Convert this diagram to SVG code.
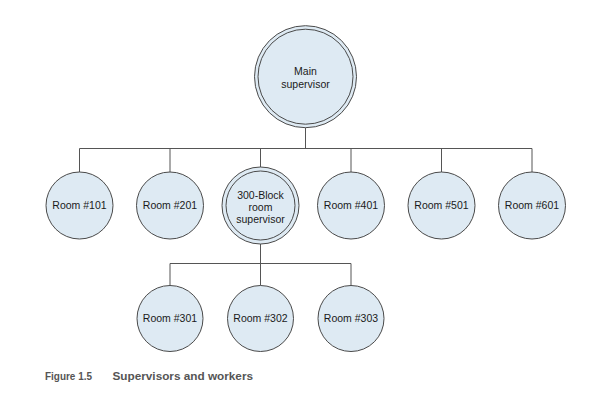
<svg xmlns="http://www.w3.org/2000/svg" width="603" height="404" viewBox="0 0 603 404">
<style>
.c{fill:#deeaf3;stroke:#4a4a4a;stroke-width:1}
.l{fill:none;stroke:#555;stroke-width:1}
.t{font-family:"Liberation Sans",Arial,sans-serif;font-size:10.5px;fill:#1a1a1a;text-anchor:middle}
.cap{font-family:"Liberation Sans",Arial,sans-serif;font-size:10.5px;font-weight:bold;fill:#555}
</style>
<rect width="603" height="404" fill="#fff"/>
<g id="connectors">
<path class="l" d="M305.5,127.7V148.5M79.5,148.5H532M79.5,148.5V172M170,148.5V172M260.5,148.5V167M351,148.5V172M441.5,148.5V172M532,148.5V172"/>
<path class="l" d="M260.5,244V263.5M170,263.5H351M170,263.5V285.5M260.5,263.5V285.5M351,263.5V285.5"/>
</g>
<g id="main">
<circle class="c" cx="305.5" cy="76.7" r="51"/>
<circle class="c" cx="305.5" cy="76.7" r="47.5"/>
<text class="t" x="305.5" y="75">Main</text>
<text class="t" x="305.5" y="87.5">supervisor</text>
</g>
<g id="r101"><circle class="c" cx="79.5" cy="205.5" r="33.5"/><text class="t" x="79.5" y="209">Room #101</text></g>
<g id="r201"><circle class="c" cx="170" cy="205.5" r="33.5"/><text class="t" x="170" y="209">Room #201</text></g>
<g id="b300">
<circle class="c" cx="260.5" cy="205.5" r="38.5"/>
<circle class="c" cx="260.5" cy="205.5" r="34.5"/>
<text class="t" x="260.5" y="199">300-Block</text>
<text class="t" x="260.5" y="211">room</text>
<text class="t" x="260.5" y="223">supervisor</text>
</g>
<g id="r401"><circle class="c" cx="351" cy="205.5" r="33.5"/><text class="t" x="351" y="209">Room #401</text></g>
<g id="r501"><circle class="c" cx="441.5" cy="205.5" r="33.5"/><text class="t" x="441.5" y="209">Room #501</text></g>
<g id="r601"><circle class="c" cx="532" cy="205.5" r="33.5"/><text class="t" x="532" y="209">Room #601</text></g>
<g id="r301"><circle class="c" cx="170" cy="318.5" r="33"/><text class="t" x="170" y="322">Room #301</text></g>
<g id="r302"><circle class="c" cx="260.5" cy="318.5" r="33"/><text class="t" x="260.5" y="322">Room #302</text></g>
<g id="r303"><circle class="c" cx="351" cy="318.5" r="33"/><text class="t" x="351" y="322">Room #303</text></g>
<text class="cap" x="45" y="380" textLength="47" lengthAdjust="spacingAndGlyphs">Figure 1.5</text>
<text class="cap" x="112.5" y="380" textLength="140.5" lengthAdjust="spacingAndGlyphs">Supervisors and workers</text>
</svg>
